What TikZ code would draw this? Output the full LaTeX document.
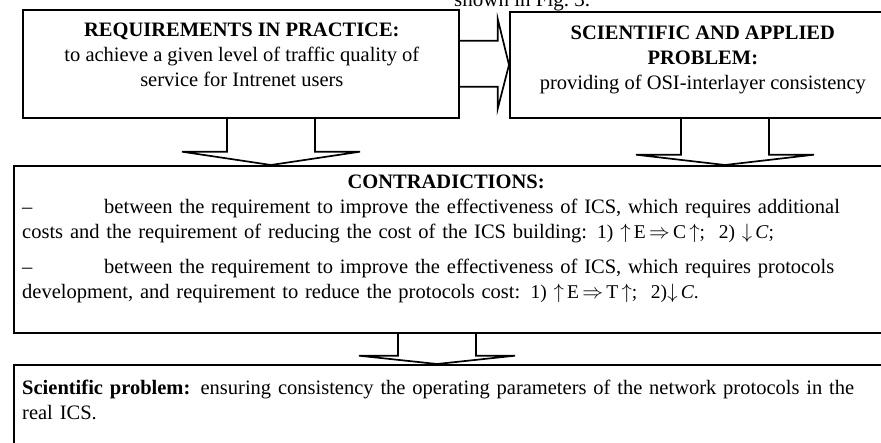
\documentclass[tikz,border=0pt]{standalone}
\usepackage{fontspec}
\setmainfont{Liberation Serif}
\usetikzlibrary{calc,positioning}

\tikzset{
  frame/.style={draw,line width=1.7pt,inner sep=0pt,anchor=north west},
  blockarrow/.style={line width=1.7pt,line join=miter},
  txt/.style={inner sep=0pt,font=\fontsize{20.5}{25}\selectfont}
}
\newcommand{\mathpart}[1]{{\fontsize{19.5}{25}\selectfont #1}}

\begin{document}
\begin{tikzpicture}[x=1pt,y=-1pt]
  \useasboundingbox (0,0) rectangle (881,443);
  % caption line of the page, cut off at the top
  \node[txt,anchor=base west,font=\fontsize{21}{24}\selectfont] (figref) at (454,7) {shown in Fig.~3.};
  % frames
  \node[frame,minimum width=436pt,minimum height=108pt] (req) at (22,9) {};
  \node[frame,minimum width=382pt,minimum height=106pt] (sci) at (509,11) {};
  \node[frame,minimum width=873pt,minimum height=167pt] (contra) at (13,165) {};
  \node[frame,minimum width=873pt,minimum height=100pt] (sprob) at (13,364) {};
  % texts
  \node[txt,anchor=north,align=center] (reqtxt) at ($(req.north)+(1,14)$)
    {\textbf{REQUIREMENTS IN PRACTICE:}\\ to achieve a given level of traffic quality of\\ service for Intrenet users};
  \node[txt,anchor=north,align=center] (scitxt) at ($(sci.north)+(2,15)$)
    {\textbf{SCIENTIFIC AND APPLIED}\\ \textbf{PROBLEM:}\\ providing of OSI-interlayer consistency};
  \node[txt,anchor=north west,text width=848pt] (contratxt) at ($(contra.north west)+(9,10)$)
    {{\centering\textbf{CONTRADICTIONS:}\par}
     \noindent\makebox[82pt][l]{--}between the requirement to improve the effectiveness of ICS, which requires additional\linebreak
     costs and the requirement of reducing the cost of the ICS building: \mathpart{1)~$\uparrow$\,E\,$\Rightarrow$\,C\,$\uparrow$;~~2)~$\downarrow$\,\textit{C};}\par
     \vspace{10pt}
     \noindent\makebox[82pt][l]{--}between the requirement to improve the effectiveness of ICS, which requires protocols\linebreak
     development, and requirement to reduce the protocols cost: \mathpart{1)~$\uparrow$\,E\,$\Rightarrow$\,T\,$\uparrow$;~~2)$\downarrow$\,\textit{C}.}\par};
  \node[txt,anchor=north west,text width=848pt] (sprobtxt) at ($(sprob.north west)+(9,16)$)
    {\noindent\textbf{Scientific problem:} ensuring consistency the operating parameters of the network protocols in the\linebreak
     real ICS.};
  % block arrow to the right
  \draw[blockarrow] ($(req.east)+(0,-23)$) -- ++(38,0) -- ++(0,-22) -- (sci.west)
    -- ($(req.east)+(38,45)$) -- ++(0,-22) -- ($(req.east)+(0,23)$);
  % block arrows down
  \coordinate (d1) at (271,0 |- req.south);
  \coordinate (d2) at (725,0 |- sci.south);
  \coordinate (d3) at (437,0 |- contra.south);
  \draw[blockarrow] ($(d1)+(-44,0)$) -- ++(0,33) -- ++(-45,0) -- (d1 |- contra.north)
    -- ($(d1)+(89,33)$) -- ++(-45,0) -- ++(0,-33);
  \draw[blockarrow] ($(d2)+(-44,0)$) -- ++(0,36) -- ++(-45,0) -- (d2 |- contra.north)
    -- ($(d2)+(89,36)$) -- ++(-45,0) -- ++(0,-36);
  \draw[blockarrow] ($(d3)+(-39,0)$) -- ++(0,22) -- ++(-39,0) -- (d3 |- sprob.north)
    -- ($(d3)+(78,22)$) -- ++(-39,0) -- ++(0,-22);
\end{tikzpicture}
\end{document}
